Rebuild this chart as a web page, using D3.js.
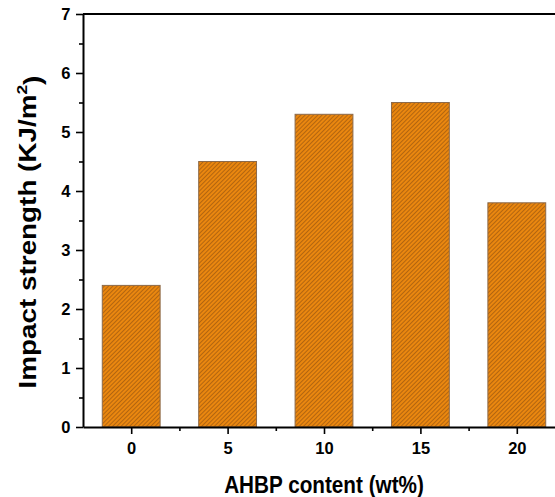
<!DOCTYPE html>
<html>
<head>
<meta charset="utf-8">
<script src="https://cdn.jsdelivr.net/npm/d3@7"></script>
<style>
  body { margin: 0; background: #fff; }
  svg { font-family: Arial, "Liberation Sans", sans-serif; }
</style>
</head>
<body>
<div id="chart"></div>
<script>
// DATA
const contents = [0, 5, 10, 15, 20];
const strengths = [2.4, 4.5, 5.3, 5.5, 3.8];
const yTicks = [0, 1, 2, 3, 4, 5, 6, 7];

const W = 555, H = 497;
const margin = {top: 14, right: -10, bottom: 70, left: 83};
const width = W - margin.left - margin.right,
    height = H - margin.top - margin.bottom;

const svg = d3.select("#chart")
    .append("svg")
        .attr("width", W)
        .attr("height", H);

// hatch pattern
const defs = svg.append("defs");
const pat = defs.append("pattern")
    .attr("id", "hatch")
    .attr("patternUnits", "userSpaceOnUse")
    .attr("width", 3)
    .attr("height", 3)
    .attr("patternTransform", "rotate(45)");
pat.append("rect")
    .attr("width", 3).attr("height", 3)
    .attr("fill", "#ea870f");
pat.append("line")
    .attr("x1", 0).attr("y1", 0).attr("x2", 0).attr("y2", 3)
    .attr("stroke", "#7a4410")
    .attr("stroke-width", 1);

const g = svg.append("g")
    .attr("transform", `translate(${margin.left}, ${margin.top})`);

const x = d3.scaleLinear()
    .domain([-2.5, 22.5])
    .range([0, width]);
const barW = x(3) - x(0);

const y = d3.scaleLinear()
    .domain([0, 7])
    .range([height, 0]);

// bars
g.selectAll("bars")
    .data(contents)
    .enter()
    .append("rect")
        .attr("x", (d) => x(d) - barW / 2)
        .attr("y", (d, i) => y(strengths[i]))
        .attr("width", barW)
        .attr("height", (d, i) => height - y(strengths[i]))
        .attr("fill", "url(#hatch)")
        .attr("stroke", "#8c6a4a")
        .attr("stroke-width", 1);

// frame top
g.append("line")
    .attr("x1", 0).attr("x2", width)
    .attr("y1", 0).attr("y2", 0)
    .attr("stroke", "#000").attr("stroke-width", 2);

// x axis
const xAxis = g.append("g")
    .attr("transform", `translate(0, ${height})`)
    .call(d3.axisBottom(x).tickValues(contents).tickFormat(d3.format("d")).tickSize(7).tickSizeOuter(0));
g.append("g")
    .attr("transform", `translate(0, ${height})`)
    .call(d3.axisBottom(x).tickValues([2.5, 7.5, 12.5, 17.5]).tickFormat("").tickSize(4).tickSizeOuter(0))
    .select(".domain").remove();

// y axis
const yAxis = g.append("g")
    .call(d3.axisLeft(y).tickValues(yTicks).tickFormat(d3.format("d")).tickSize(7).tickSizeOuter(0));
g.append("g")
    .call(d3.axisLeft(y).tickValues(yTicks.slice(0, -1).map(d => d + 0.5)).tickFormat("").tickSize(4).tickSizeOuter(0))
    .select(".domain").remove();

svg.selectAll(".domain").attr("stroke-width", 2);
svg.selectAll(".tick line").attr("stroke-width", 1.6);

xAxis.selectAll("text")
    .attr("dy", "1.05em")
    .style("font-size", "16.5px")
    .style("font-weight", "bold");
yAxis.selectAll("text")
    .attr("dx", "-0.15em")
    .style("font-size", "16.5px")
    .style("font-weight", "bold");

// labels
svg.append("text")
    .attr("transform", "translate(324, 493) scale(0.9, 1)")
    .attr("text-anchor", "middle")
    .style("font-size", "23px")
    .style("font-weight", "bold")
    .text("AHBP content (wt%)");

const yl = svg.append("text")
    .attr("transform", `translate(36, 232) rotate(-90) scale(1.16, 1)`)
    .attr("text-anchor", "middle")
    .style("font-size", "24px")
    .style("font-weight", "bold");
yl.append("tspan").text("Impact strength (KJ/m");
yl.append("tspan").attr("dy", "-0.6em").style("font-size", "15px").text("2");
yl.append("tspan").attr("dy", "0.6em").text(")");
</script>
</body>
</html>
